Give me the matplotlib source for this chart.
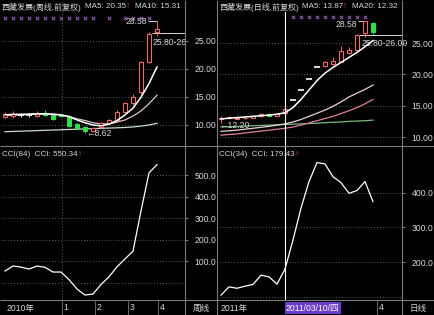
import matplotlib
matplotlib.use('Agg')
import matplotlib.pyplot as plt
from matplotlib.patches import Rectangle
import matplotlib.transforms as mtransforms

plt.rcParams['font.family'] = ['Liberation Sans', 'Noto Sans CJK SC', 'DejaVu Sans']

############ DATOS: SEMANAL (izquierda) ############
wk_open = [11.5, 11.6, 11.8, 11.8, 11.6, 12.1, 11.7, 11.8, 11.6, 10.2,
           9.6, 9.0, 9.6, 10.4, 10.9, 12.3, 13.9, 15.9, 21.2, 26.6]
wk_close = [11.9, 11.9, 11.8, 11.8, 12.0, 11.8, 11.0, 11.6, 9.9, 9.5,
            8.9, 9.4, 10.4, 10.8, 12.3, 13.9, 15.0, 21.3, 26.3, 27.2]
wk_high = [12.3, 12.5, 12.1, 12.0, 12.5, 12.6, 11.8, 12.0, 11.8, 10.4,
           9.8, 9.6, 10.6, 11.0, 12.6, 14.1, 15.5, 21.5, 26.6, 28.58]
wk_low = [11.2, 11.3, 11.5, 11.5, 11.4, 11.6, 10.8, 11.4, 9.7, 9.3,
          8.62, 8.8, 9.4, 10.2, 10.7, 12.1, 13.6, 15.5, 21.0, 25.8]
wk_ma5 = [11.8, 11.9, 11.9, 11.95, 12.0, 12.0, 11.9, 11.8, 11.5, 10.9,
          10.4, 10.0, 9.85, 10.15, 10.8, 11.8, 13.0, 14.95, 17.4, 20.35]
wk_ma10 = [11.7, 11.75, 11.8, 11.85, 11.9, 11.95, 11.95, 11.8, 11.5, 11.1,
           10.8, 10.4, 10.2, 10.2, 10.5, 10.9, 11.6, 12.5, 13.8, 15.31]
wk_ma_long = [8.8, 8.85, 8.9, 8.95, 9.0, 9.05, 9.1, 9.15, 9.2, 9.25,
              9.3, 9.35, 9.4, 9.45, 9.5, 9.55, 9.65, 9.8, 10.0, 10.3]
wk_cci = [56, 79, 74, 65, 79, 73, 51, 51, 16, -28,
          -56, -51, -7, 29, 75, 112, 148, 335, 512, 550.34]
wk_marks = [0, 1, 2, 3, 4, 5, 6, 7, 8, 9, 10, 11, 13, 15, 16, 17, 18]
wk_labels = ['2010年', '1', '2', '3', '4']
wk_label_pos = [0, 7.1, 11.25, 15.4, 19.1]

############ DATOS: DIARIO (derecha) ############
dy_open = [12.8, 13.0, 12.9, 13.0, 13.1, 13.3, 13.7, 13.4, 13.8, 15.9,
           17.5, 19.3, 21.2, 21.3, 21.6, 22.0, 23.4, 23.9, 26.6, 28.2]
dy_close = [13.1, 13.2, 13.1, 13.1, 13.3, 13.6, 13.4, 13.6, 14.5, 15.9,
            17.5, 19.3, 21.2, 22.0, 22.2, 23.8, 23.9, 26.3, 28.5, 26.8]
dy_high = [13.3, 13.4, 13.3, 13.2, 13.5, 13.8, 13.8, 13.7, 14.6, 15.9,
           17.5, 19.3, 21.2, 22.1, 22.8, 24.6, 24.4, 26.5, 28.58, 28.3]
dy_low = [12.2, 12.9, 12.8, 12.9, 13.0, 13.2, 13.3, 13.3, 13.7, 15.9,
          17.5, 19.3, 21.2, 21.2, 21.5, 21.9, 23.2, 23.8, 26.0, 26.4]
dy_ma5 = [12.9, 13.0, 13.1, 13.2, 13.3, 13.4, 13.5, 13.65, 13.87, 14.7,
          16.0, 17.5, 19.0, 20.2, 21.1, 21.9, 22.7, 23.5, 24.4, 25.4]
dy_ma10 = [10.9, 11.0, 11.1, 11.25, 11.4, 11.55, 11.7, 11.9, 12.1, 12.4,
           12.8, 13.3, 13.8, 14.3, 14.9, 15.6, 16.4, 17.0, 17.6, 18.3]
dy_ma20 = [10.3, 10.4, 10.5, 10.65, 10.8, 10.95, 11.1, 11.25, 11.4, 11.6,
           11.9, 12.25, 12.6, 12.95, 13.3, 13.75, 14.2, 14.7, 15.3, 16.0]
dy_ma60 = [11.6, 11.65, 11.7, 11.75, 11.8, 11.85, 11.9, 11.95, 12.0, 12.05,
           12.1, 12.15, 12.2, 12.3, 12.35, 12.4, 12.5, 12.55, 12.6, 12.7]
dy_cci = [104, 128, 124, 130, 135, 162, 157, 136, 179.43, 264,
          356, 433, 488, 484, 447, 430, 399, 407, 433, 375]
dy_marks = [9, 10, 11, 12, 13, 14, 15, 16, 17, 18]
dy_cursor = 8

############ ESTILO ############
W, H = 434, 315
FONDO = 'black'
SUBE = '#f06a6a'
BAJA = '#2ede4a'
TEXTO = '#d8d8d8'
ROJO = '#ff5050'
BORDE = '#7a7a7a'
REJILLA = '#5a5a5a'
FS = 6.2
FT = 5.8


def rect(x0, y0, x1, y1):
    return [x0 / W, 1 - y1 / H, (x1 - x0) / W, (y1 - y0) / H]


def estilo_eje(ax, yticks, fmt):
    ax.set_facecolor(FONDO)
    for s in ax.spines.values():
        s.set_visible(False)
    ax.yaxis.tick_right()
    ax.set_yticks(yticks)
    ax.set_yticklabels([fmt % v for v in yticks], color=TEXTO, fontsize=FS)
    ax.tick_params(axis='y', length=2, color=BORDE, pad=5)
    ax.set_xticks([])
    ax.grid(axis='y', color=REJILLA, linestyle=(0, (1, 2)), linewidth=0.7)


def dibujar_velas(ax, o, c, h, l):
    for i in range(len(o)):
        top, bot = max(o[i], c[i]), min(o[i], c[i])
        if c[i] == o[i]:
            ax.hlines(o[i], i - 0.4, i + 0.4, color='white', lw=1.2, zorder=3)
            ax.vlines(i, l[i], h[i], color='white', lw=0.7, zorder=3)
            continue
        col = SUBE if c[i] > o[i] else BAJA
        cara = FONDO if c[i] > o[i] else BAJA
        ax.vlines(i, top, h[i], color=col, lw=0.7, zorder=3)
        ax.vlines(i, l[i], bot, color=col, lw=0.7, zorder=3)
        ax.add_patch(Rectangle((i - 0.3, bot), 0.6, top - bot, facecolor=cara,
                               edgecolor=col, lw=0.8, zorder=3))


def titulo(ax, x, y, partes):
    # partes: lista de (texto, color, separacion en puntos)
    prev = ax.text(x, y, partes[0][0], color=partes[0][1], fontsize=FT, va='center')
    for txt, col, sep in partes[1:]:
        prev = ax.annotate(txt, xy=(1, 0.5), xycoords=prev, xytext=(sep, 0),
                           textcoords='offset points', color=col, fontsize=FT,
                           va='center', ha='left')


fig = plt.figure(figsize=(W / 100, H / 100), dpi=100, facecolor=FONDO)

# ---------------- izquierda: semanal ----------------
ax_lt = fig.add_axes(rect(2, 0, 185, 146))
estilo_eje(ax_lt, [10, 15, 20, 25], '%.2f')
ax_lt.set_xlim(-0.375, 22.5)
ax_lt.set_ylim(6.25, 32.3)
ax_lt.axvline(wk_label_pos[1], color=REJILLA, linestyle=(0, (1, 2)), lw=0.7)
ax_lt.plot(range(20), wk_ma_long, color='#c8dcc8', lw=0.9, zorder=2)
ax_lt.plot(range(20), wk_ma10, color='#d8c8cc', lw=0.9, zorder=2)
ax_lt.plot(range(20), wk_ma5, color='white', lw=1.1, zorder=4)
dibujar_velas(ax_lt, wk_open, wk_close, wk_high, wk_low)
trans = mtransforms.blended_transform_factory(ax_lt.transData, ax_lt.transAxes)
ax_lt.scatter(wk_marks, [0.877] * len(wk_marks), marker='x', s=6, color='#a060c0',
              lw=0.7, transform=trans)
ax_lt.text(10.1, 8.4, '←8.62', color=TEXTO, fontsize=FS, va='center', ha='left')
ax_lt.text(17.75, 28.4, '28.58', color=TEXTO, fontsize=FS, va='center', ha='right')
ax_lt.hlines(28.58, 17.85, 19, color=TEXTO, lw=0.7)
ax_lt.hlines(26.4, 18.4, 22.5, color=TEXTO, lw=0.7)
ax_lt.text(18.5, 24.7, '25.80-26', color=TEXTO, fontsize=FS, va='center', ha='left',
           clip_on=True)

ax_lb = fig.add_axes(rect(2, 146, 185, 300))
estilo_eje(ax_lb, [100, 200, 300, 400, 500], '%.1f')
ax_lb.set_xlim(-0.375, 22.5)
ax_lb.set_ylim(-79, 637)
ax_lb.axhline(0, color=REJILLA, linestyle=(0, (1, 2)), lw=0.7)
ax_lb.axvline(wk_label_pos[1], color=REJILLA, linestyle=(0, (1, 2)), lw=0.7)
ax_lb.plot(range(20), wk_cci, color='white', lw=0.9)

# ---------------- derecha: diario ----------------
ax_rt = fig.add_axes(rect(219, 0, 402, 146))
estilo_eje(ax_rt, [10, 15, 20, 25], '%.2f')
ax_rt.set_xlim(-0.25, 22.625)
ax_rt.set_ylim(8.57, 31.86)
ax_rt.plot(range(20), dy_ma60, color='#7cb87c', lw=0.9, zorder=2)
ax_rt.plot(range(20), dy_ma20, color='#e08098', lw=0.9, zorder=2)
ax_rt.plot(range(20), dy_ma10, color='#e8d0d8', lw=0.9, zorder=2)
ax_rt.plot(range(20), dy_ma5, color='white', lw=1.1, zorder=4)
dibujar_velas(ax_rt, dy_open, dy_close, dy_high, dy_low)
ax_rt.axvline(dy_cursor, ymax=(146 - 12) / 146, color='white', lw=0.8, zorder=5)
trans = mtransforms.blended_transform_factory(ax_rt.transData, ax_rt.transAxes)
ax_rt.scatter(dy_marks, [0.884] * len(dy_marks), marker='x', s=6, color='#a060c0',
              lw=0.7, transform=trans)
ax_rt.text(-0.2, 11.9, '←12.20', color=TEXTO, fontsize=FS, va='center', ha='left')
ax_rt.text(17.0, 28.0, '28.58', color=TEXTO, fontsize=FS, va='center', ha='right')
ax_rt.hlines(28.58, 17.1, 18, color=TEXTO, lw=0.7)
ax_rt.hlines(26.3, 17.3, 22.625, color=TEXTO, lw=0.7)
ax_rt.text(17.6, 25.0, '25.80-26.00', color=TEXTO, fontsize=FS, va='center', ha='left')

ax_rb = fig.add_axes(rect(219, 146, 402, 300))
estilo_eje(ax_rb, [200, 300, 400], '%.1f')
ax_rb.set_xlim(-0.25, 22.625)
ax_rb.set_ylim(90, 536)
ax_rb.axhline(100, color=REJILLA, linestyle=(0, (1, 2)), lw=0.7)
ax_rb.plot(range(20), dy_cci, color='white', lw=0.9)
ax_rb.axvline(dy_cursor, color='white', lw=0.8)

# ---------------- marcos, titulos y etiquetas ----------------
ov = fig.add_axes([0, 0, 1, 1])
ov.set_xlim(0, W)
ov.set_ylim(H, 0)
ov.axis('off')
ov.patch.set_alpha(0)

for x in [185, 217, 402]:
    ov.vlines(x, 0, H, color=BORDE, lw=0.8)
for y in [146, 300]:
    ov.hlines(y, 0, W, color=BORDE, lw=0.8)

# titulos superiores
titulo(ov, 2, 7, [('西藏发展(周线,前复权)', TEXTO, 0), ('MA5: 20.35', TEXTO, 2),
                  ('↑', ROJO, 0.5), ('MA10: 15.31', TEXTO, 3)])
titulo(ov, 219, 7, [('西藏发展(日线,前复权)', TEXTO, 0), ('MA5: 13.87', TEXTO, 2),
                    ('↑', ROJO, 0.5), ('MA20: 12.32', TEXTO, 3)])
titulo(ov, 2, 155, [('CCI(84)  CCI: 550.34', TEXTO, 0), ('↑', ROJO, 0.3)])
titulo(ov, 219, 155, [('CCI(34)  CCI: 179.43', TEXTO, 0), ('↑', ROJO, 0.3)])

# fila inferior de fechas
tr_l = mtransforms.blended_transform_factory(ax_lb.transData, ov.transData)
for pos, lab in zip(wk_label_pos, wk_labels):
    if pos > 0:
        ov.vlines(pos, 300, 315, color=BORDE, lw=0.6, transform=tr_l)
    ov.text(pos + 0.2, 308, lab, color=TEXTO, fontsize=FS, va='center', ha='left',
            transform=tr_l)
ov.text(201, 308, '周线', color=TEXTO, fontsize=FS, va='center', ha='center')

tr_r = mtransforms.blended_transform_factory(ax_rb.transData, ov.transData)
ov.text(0, 308, '2011年', color=TEXTO, fontsize=FS, va='center', ha='left', transform=tr_r)
ov.text(dy_cursor + 0.1, 308, '2011/03/10/四', color='white', fontsize=FS, va='center',
        ha='left', transform=tr_r,
        bbox=dict(boxstyle='square,pad=0.15', facecolor='#6a3cc8', edgecolor='none'))
ov.vlines(19.5, 300, 315, color=BORDE, lw=0.6, transform=tr_r)
ov.text(19.7, 308, '4', color=TEXTO, fontsize=FS, va='center', ha='left', transform=tr_r)
ov.text(418, 308, '日线', color=TEXTO, fontsize=FS, va='center', ha='center')

fig.savefig('out.png', dpi=100, facecolor=FONDO)
